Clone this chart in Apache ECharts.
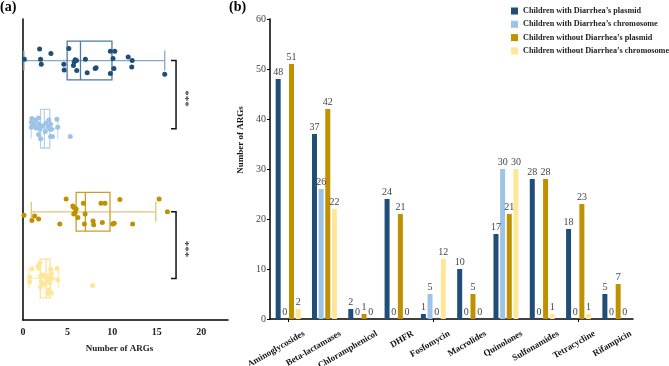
<!DOCTYPE html>
<html>
<head>
<meta charset="utf-8">
<script src="https://cdn.jsdelivr.net/npm/echarts@6/dist/echarts.min.js"></script>
<style>
html, body { margin: 0; padding: 0; background: #fff; }
#main { width: 669px; height: 366px; }
</style>
</head>
<body>
<div id="main"></div>
<script>
// ---- panel (b) data ----
const categories = ['Aminoglycosides', 'Beta-lactamases', 'Chloramphenicol', 'DHFR', 'Fosfomycin',
    'Macrolides', 'Quinolones', 'Sulfonamides', 'Tetracycline', 'Rifampicin'];
const seriesNames = ['Children with Diarrhea’s plasmid', 'Children with Diarrhea’s chromosome',
    'Children without Diarrhea’s plasmid', 'Children without Diarrhea’s chromosome'];
const withPlasmid = [48, 37, 2, 24, 1, 10, 17, 28, 18, 5];
const withChromosome = [0, 26, 0, 0, 5, 0, 30, 0, 0, 0];
const withoutPlasmid = [51, 42, 1, 21, 0, 5, 21, 28, 23, 7];
const withoutChromosome = [2, 22, 0, 0, 12, 0, 30, 1, 1, 0];
const barTicks = { min: 0, max: 60, interval: 10 };

// ---- panel (a) data: number of ARGs per sample, vertical jitter (row units) ----
const row1Vals = [0.15, 1.86, 1.97, 2.05, 3.13, 4.58, 4.62, 5.14, 5.66, 5.74, 5.85, 6.0, 6.03, 7.0, 7.2, 8.1, 8.2, 9.8, 10.3, 10.1, 10.2, 9.8, 11.8, 12.25, 12.2, 15.9];
const row1Jit = [-0.02, -0.16, -0.02, 0.05, -0.10, 0.05, 0.13, -0.17, 0.07, 0.02, -0.01, 0, 0.14, -0.02, 0.17, 0.11, 0.10, -0.13, -0.13, -0.03, 0.11, 0.18, -0.05, 0, 0.09, 0.19];
const row2Vals = [1.0, 1.75, 0.93, 0.93, 1.23, 1.49, 1.75, 1.9, 1.75, 1.97, 2.6, 2.9, 3.1, 2.8, 2.98, 3.2, 3.8, 3.9, 3.1, 3.3, 5.3, 2.2, 2.5, 1.4, 2.0];
const row2Jit = [-0.14, -0.15, -0.09, -0.02, -0.06, -0.01, -0.07, 0.01, 0.08, 0.14, -0.08, -0.12, -0.06, -0.03, 0, 0.01, -0.13, -0.02, 0.11, 0.11, 0.11, -0.04, 0.04, -0.12, -0.03];
const row3Vals = [0.11, 1.0, 1.3, 1.75, 4.13, 4.84, 5.59, 5.7, 5.96, 5.85, 5.7, 6.15, 6.78, 6.97, 6.89, 7.86, 7.93, 8.75, 9.2, 8.9, 10.06, 10.24, 10.87, 12.3, 15.27, 16.2];
const row3Jit = [0.05, 0.12, 0.06, 0.10, 0.17, -0.18, -0.08, -0.06, -0.04, 0.01, 0.03, 0.08, -0.12, 0.03, 0.17, 0.13, 0.18, -0.12, -0.12, 0.15, 0.17, 0.16, -0.17, 0.17, -0.18, 0];
const row4Vals = [1.0, 1.68, 1.79, 1.9, 0.74, 0.74, 1.97, 2.23, 2.5, 2.8, 3.1, 3.17, 3.24, 2.7, 2.98, 2.05, 1.97, 2.87, 2.8, 3.17, 3.83, 3.9, 7.82, 2.4];
const row4Jit = [-0.13, -0.17, -0.14, -0.22, -0.02, 0.05, -0.03, -0.05, -0.02, -0.03, -0.13, -0.07, 0, 0.02, 0.06, 0.05, 0.12, 0.16, 0.21, 0.2, -0.14, 0.02, 0.1, 0.08];
// box stats: [min, q1, median, q3, max]
const boxStats = [
    [0.1, 4.95, 6.45, 9.98, 15.9],
    [0.93, 1.97, 2.4, 3.0, 3.9],
    [0.93, 5.96, 7.0, 9.76, 14.9],
    [0.67, 1.94, 2.6, 3.05, 3.99]
];
const xTicksA = { min: 0, max: 23, interval: 5 };
const sigPairs = [[0, 1], [2, 3]];
const sigLabel = '***';

// layout of the rows in panel (a)
const rowPos = [0.58, 1.53, 2.69, 3.62];
const boxHalf = 0.27;
const capHalf = 0.14;
const bracketX = 17.17;
const bracketTick = 16.6;
const sigTextX = 18.16;

const colors = ['#1f4e79', '#9dc3e6', '#bf9000', '#ffe699'];
const boxColors = ['#4f7aa6', '#b5d2ec', '#c99e2a', '#ffe296'];
const whiskerColors = ['#86a8cb', '#c7ddf2', '#e0c67a', '#ffeab6'];
const serif = 'Liberation Serif, Times New Roman, serif';

const rowVals = [row1Vals, row2Vals, row3Vals, row4Vals];
const rowJit = [row1Jit, row2Jit, row3Jit, row4Jit];

function renderBox (params, api) {
    const i = params.dataIndex;
    const y = api.value(0);
    const mn = api.value(1), q1 = api.value(2), md = api.value(3), q3 = api.value(4), mx = api.value(5);
    const top = api.coord([q1, y - boxHalf])[1];
    const bot = api.coord([q1, y + boxHalf])[1];
    const mid = api.coord([q1, y])[1];
    const cTop = api.coord([q1, y - capHalf])[1];
    const cBot = api.coord([q1, y + capHalf])[1];
    const xMin = api.coord([mn, y])[0];
    const xQ1 = api.coord([q1, y])[0];
    const xMd = api.coord([md, y])[0];
    const xQ3 = api.coord([q3, y])[0];
    const xMax = api.coord([mx, y])[0];
    const boxStyle = { stroke: boxColors[i], lineWidth: 1.3, fill: null };
    const whStyle = { stroke: whiskerColors[i], lineWidth: 1.3 };
    return {
        type: 'group',
        children: [
            { type: 'line', shape: { x1: xMin, y1: mid, x2: xMax, y2: mid }, style: whStyle },
            { type: 'line', shape: { x1: xMin, y1: cTop, x2: xMin, y2: cBot }, style: whStyle },
            { type: 'line', shape: { x1: xMax, y1: cTop, x2: xMax, y2: cBot }, style: whStyle },
            { type: 'rect', shape: { x: xQ1, y: top, width: xQ3 - xQ1, height: bot - top }, style: boxStyle },
            { type: 'line', shape: { x1: xMd, y1: top, x2: xMd, y2: bot }, style: boxStyle }
        ]
    };
}

function renderBracket (params, api) {
    const yA = rowPos[api.value(0)];
    const yB = rowPos[api.value(1)];
    const pA = api.coord([bracketX, yA]);
    const pB = api.coord([bracketX, yB]);
    const tA = api.coord([bracketTick, yA]);
    const tB = api.coord([bracketTick, yB]);
    const txt = api.coord([sigTextX, (yA + yB) / 2]);
    return {
        type: 'group',
        children: [
            {
                type: 'polyline',
                shape: { points: [[tA[0], tA[1]], [pA[0], pA[1]], [pB[0], pB[1]], [tB[0], tB[1]]] },
                style: { stroke: '#111', lineWidth: 1.5, fill: null }
            },
            {
                type: 'text', x: txt[0], y: txt[1] + 4, rotation: -Math.PI / 2,
                style: { text: sigLabel, fill: '#222', font: '11px ' + serif, textAlign: 'center', textVerticalAlign: 'middle' }
            }
        ]
    };
}

const scatterSeries = rowVals.map((vals, r) => ({
    type: 'scatter',
    xAxisIndex: 0,
    yAxisIndex: 0,
    z: 4,
    symbolSize: 5,
    itemStyle: { color: colors[r], opacity: 1 },
    data: vals.map((v, k) => [v, rowPos[r] + rowJit[r][k]])
}));

const barData = [withPlasmid, withChromosome, withoutPlasmid, withoutChromosome];
const barSeries = barData.map((d, k) => ({
    name: seriesNames[k],
    type: 'bar',
    xAxisIndex: 1,
    yAxisIndex: 1,
    barWidth: 5,
    barGap: '33%',
    itemStyle: { color: colors[k] },
    label: {
        show: true, position: 'top', distance: 2,
        color: '#444', fontFamily: serif, fontSize: 10
    },
    data: d
}));

const option = {
    animation: false,
    backgroundColor: '#fff',
    textStyle: { fontFamily: serif },
    title: [
        { text: '(a)', left: 0, top: 0, padding: 0, textStyle: { fontFamily: serif, fontWeight: 'bold', fontSize: 14, color: '#000' } },
        { text: '(b)', left: 229, top: 0, padding: 0, textStyle: { fontFamily: serif, fontWeight: 'bold', fontSize: 14, color: '#000' } }
    ],
    legend: {
        data: seriesNames,
        orient: 'vertical',
        left: 511,
        top: 6,
        padding: 0,
        icon: 'rect',
        itemWidth: 7,
        itemHeight: 7,
        itemGap: 3.3,
        selectedMode: false,
        textStyle: { fontFamily: serif, fontWeight: 'bold', fontSize: 8.2, color: '#222', lineHeight: 10 }
    },
    grid: [
        { left: 23, right: 441, top: 19, bottom: 46, outerBoundsMode: 'none' },
        { left: 270, right: 36, top: 19, bottom: 47, outerBoundsMode: 'none' },
        { left: 286, right: 20, top: 19, bottom: 47, outerBoundsMode: 'none' }
    ],
    xAxis: [
        {
            gridIndex: 0, type: 'value', position: 'bottom',
            min: xTicksA.min, max: xTicksA.max, interval: xTicksA.interval,
            axisLine: { show: true, onZero: false, lineStyle: { color: '#000', width: 1.5 } },
            axisTick: { show: false },
            splitLine: { show: false },
            axisLabel: { margin: 7, color: '#222', fontFamily: serif, fontWeight: 'bold', fontSize: 10, showMaxLabel: false },
            name: 'Number of ARGs', nameLocation: 'middle', nameGap: 24,
            nameTextStyle: { fontFamily: serif, fontWeight: 'bold', fontSize: 9, color: '#222', padding: [0, 12, 0, 0] }
        },
        {
            gridIndex: 1, type: 'category', data: categories,
            axisLine: { show: true, lineStyle: { color: '#000', width: 1.5 } },
            axisTick: { show: true, alignWithLabel: true, length: 3, lineStyle: { color: '#000' } },
            axisLabel: { show: false }
        },
        {
            gridIndex: 2, type: 'category', data: categories,
            axisLine: { show: false }, axisTick: { show: false },
            axisLabel: { interval: 0, rotate: 30, margin: 14, color: '#111', fontFamily: serif, fontWeight: 'bold', fontSize: 9 }
        }
    ],
    yAxis: [
        {
            gridIndex: 0, type: 'value', min: 0, max: 4.2, inverse: true,
            axisLine: { show: true, lineStyle: { color: '#000', width: 1.5 } },
            axisTick: { show: false }, axisLabel: { show: false }, splitLine: { show: false }
        },
        {
            gridIndex: 1, type: 'value', min: barTicks.min, max: barTicks.max, interval: barTicks.interval,
            axisLine: { show: true, lineStyle: { color: '#000', width: 1.5 } },
            axisTick: { show: true, length: 3, lineStyle: { color: '#000' } },
            splitLine: { show: false },
            axisLabel: { margin: 4, color: '#444', fontFamily: serif, fontSize: 10 },
            name: 'Number of ARGs', nameLocation: 'middle', nameGap: 18,
            nameTextStyle: { fontFamily: serif, fontWeight: 'bold', fontSize: 9, color: '#111', padding: [0, 0, 0, 58] }
        },
        { gridIndex: 2, type: 'value', show: false }
    ],
    series: [
        {
            type: 'custom',
            xAxisIndex: 0,
            yAxisIndex: 0,
            z: 2,
            renderItem: renderBox,
            encode: { x: [1, 2, 3, 4, 5], y: 0 },
            data: boxStats.map((s, r) => [rowPos[r]].concat(s))
        },
        ...scatterSeries,
        {
            type: 'custom',
            xAxisIndex: 0,
            yAxisIndex: 0,
            z: 3,
            renderItem: renderBracket,
            encode: { x: 0, y: 1 },
            data: sigPairs
        },
        ...barSeries
    ]
};

const myChart = echarts.init(document.getElementById('main'));
myChart.setOption(option);
</script>
</body>
</html>
